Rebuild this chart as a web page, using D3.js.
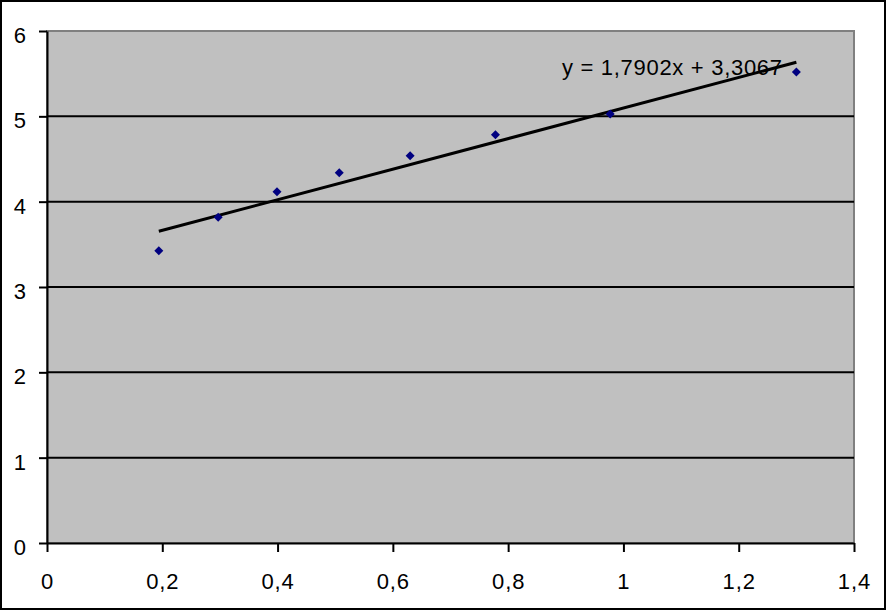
<!DOCTYPE html>
<html>
<head>
<meta charset="utf-8">
<script src="https://cdn.jsdelivr.net/npm/d3@7/dist/d3.min.js"></script>
<style>
  html, body { margin: 0; padding: 0; background: #fff; }
  svg { display: block; }
  text { font-family: "Liberation Sans", Arial, Helvetica, sans-serif; }
</style>
</head>
<body>
<svg id="chart" width="887" height="612"></svg>
<script>
// ---- data ----
const xValues = [0.194, 0.297, 0.399, 0.507, 0.630, 0.778, 0.977, 1.300];
const yValues = [3.425, 3.817, 4.117, 4.340, 4.539, 4.785, 5.027, 5.520];
const trendCoef = [1.7902, 3.3067]; // slope, intercept
const trendLabel = "y = 1,7902x + 3,3067";
const xTicks = [0, 0.2, 0.4, 0.6, 0.8, 1, 1.2, 1.4];
const yTicks = [0, 1, 2, 3, 4, 5, 6];

// ---- layout ----
const W = 887, H = 612;
const plot = { left: 47, right: 854, top: 31, bottom: 543 };
const svg = d3.select("#chart");

const locale = d3.formatLocale({ decimal: ",", thousands: ".", grouping: [3], currency: ["", ""] });
const fmt = d => locale.format("~g")(d);

const x = d3.scaleLinear().domain([0, 1.4]).range([plot.left, plot.right]);
const y = d3.scaleLinear().domain([0, 6]).range([plot.bottom, plot.top]);

// outer border
svg.append("rect").attr("x", 1).attr("y", 1).attr("width", 884).attr("height", 608)
  .attr("fill", "#fff").attr("stroke", "#000").attr("stroke-width", 2);

// plot area
svg.append("rect").attr("x", plot.left).attr("y", plot.top)
  .attr("width", plot.right - plot.left).attr("height", plot.bottom - plot.top)
  .attr("fill", "#c0c0c0").attr("stroke", "#808080").attr("stroke-width", 2);

// gridlines
svg.append("g").selectAll("line").data(yTicks.filter(d => d > 0 && d < 6)).join("line")
  .attr("x1", plot.left).attr("x2", plot.right)
  .attr("y1", d => y(d)).attr("y2", d => y(d))
  .attr("stroke", "#000").attr("stroke-width", 2);

// axes
const xAxis = d3.axisBottom(x).tickValues(xTicks).tickFormat(fmt).tickSize(9).tickSizeOuter(0).tickPadding(22);
const yAxis = d3.axisLeft(y).tickValues(yTicks).tickFormat(fmt).tickSize(8).tickSizeOuter(0).tickPadding(12);

const gx = svg.append("g").attr("transform", `translate(0,${plot.bottom})`).call(xAxis);
const gy = svg.append("g").attr("transform", `translate(${plot.left},0)`).call(yAxis);
[gx, gy].forEach(g => {
  g.select(".domain").attr("stroke", "#000").attr("stroke-width", 2);
  g.selectAll(".tick line").attr("stroke", "#000").attr("stroke-width", 2);
  g.selectAll(".tick text").attr("fill", "#000").attr("font-size", 22)
    .attr("font-family", "Liberation Sans, Arial, sans-serif").style("letter-spacing", "0.9px");
});
gy.selectAll(".tick text").attr("dy", "0.52em");
gx.selectAll(".tick text").attr("dy", "0.68em");

// trendline
const xMin = d3.min(xValues), xMax = d3.max(xValues);
svg.append("line")
  .attr("x1", x(xMin)).attr("y1", y(trendCoef[0] * xMin + trendCoef[1]))
  .attr("x2", x(xMax)).attr("y2", y(trendCoef[0] * xMax + trendCoef[1]))
  .attr("stroke", "#000").attr("stroke-width", 3);

// markers
const pts = xValues.map((v, i) => [v, yValues[i]]);
svg.append("g").selectAll("path").data(pts).join("path")
  .attr("transform", d => `translate(${x(d[0])},${y(d[1])})`)
  .attr("d", "M0,-4.5L4.5,0L0,4.5L-4.5,0Z")
  .attr("fill", "#000080");

// equation label
svg.append("text").attr("x", 562).attr("y", 75)
  .attr("font-size", 22).style("letter-spacing", "0.7px").attr("fill", "#000")
  .text(trendLabel);
</script>
</body>
</html>
